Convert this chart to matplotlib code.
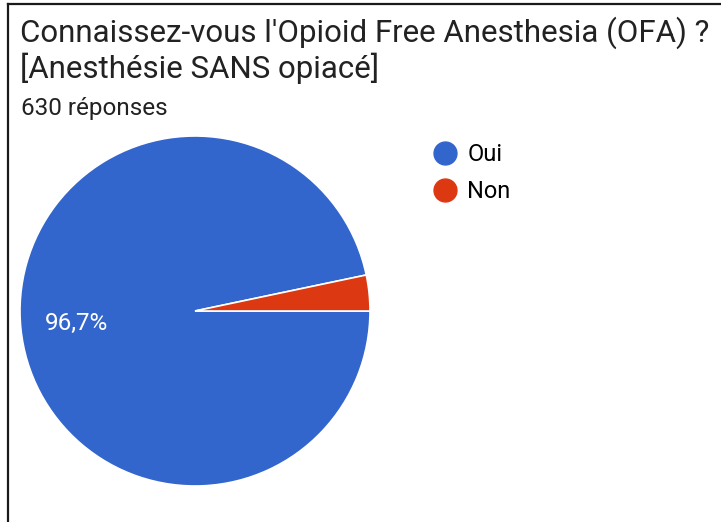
import matplotlib.pyplot as plt
from matplotlib.lines import Line2D

# données
categories = ["Oui", "Non"]
valeurs = [96.7, 3.3]
couleurs = ["#3366CC", "#DC3912"]
titre = "Connaissez-vous l'Opioid Free Anesthesia (OFA) ?\n[Anesthésie SANS opiacé]"
sous_titre = "630 réponses"

plt.rcParams['font.family'] = ['Roboto', 'DejaVu Sans']

W, H = 721, 522
fig = plt.figure(figsize=(W / 100, H / 100), dpi=100)

# cadre (bords gauche et haut seulement, le reste est coupé)
fig.add_artist(Line2D([8 / W, 8 / W], [0, 1 - 4 / H], color="#1a1a1a", lw=1.6))
fig.add_artist(Line2D([8 / W, 1], [1 - 4 / H, 1 - 4 / H], color="#1a1a1a", lw=1.6))

fig.text(20 / W, 1 - 16 / H, titre, fontsize=22.5, color="#222222",
         va="top", ha="left", linespacing=1.17)
fig.text(21 / W, 1 - 97 / H, sous_titre, fontsize=17.5, color="#222222",
         va="top", ha="left")

# camembert
cx, cy, r = 195, 311, 175
ax = fig.add_axes([(cx - r) / W, (H - cy - r) / H, 2 * r / W, 2 * r / H])
wedges, textes, autotextes = ax.pie(
    valeurs, colors=couleurs, startangle=0, counterclock=False,
    autopct=lambda p: f"{p:.1f}%".replace(".", ",") if p > 5 else "",
    pctdistance=0.68, wedgeprops=dict(edgecolor="white", linewidth=1.2),
    textprops=dict(color="white", fontsize=17.5))
ax.set_xlim(-1, 1)
ax.set_ylim(-1, 1)
ax.set_aspect("equal")
ax.axis("off")

# légende
handles = [Line2D([], [], marker="o", linestyle="", markersize=16.5,
                  markerfacecolor=c, markeredgecolor=c) for c in couleurs]
fig.legend(handles, categories, loc="upper left",
           bbox_to_anchor=(431 / W, 1 - 143 / H), frameon=False,
           fontsize=17, handletextpad=0.34, labelspacing=0.6,
           handlelength=1.2, borderaxespad=0, borderpad=0)

fig.savefig("out.png", dpi=100)
